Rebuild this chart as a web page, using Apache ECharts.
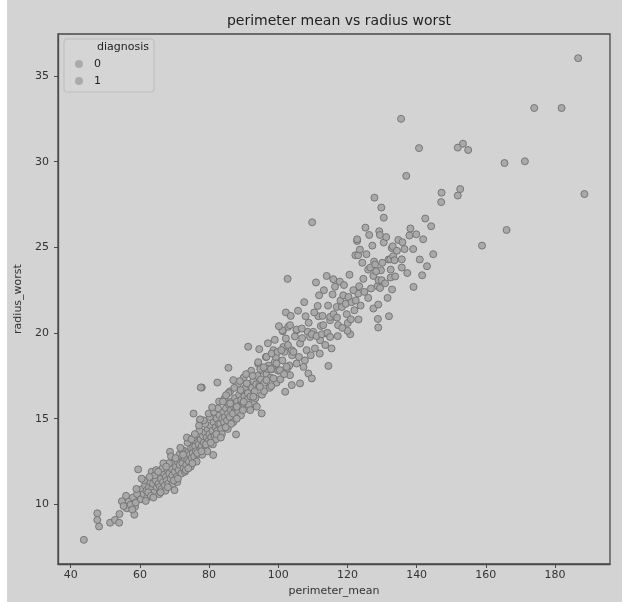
<!DOCTYPE html>
<html>
<head>
<meta charset="UTF-8">
<title>perimeter mean vs radius worst</title>
<script src="https://cdn.jsdelivr.net/npm/echarts@6/dist/echarts.min.js"></script>
</head>
<body style="margin:0;background:#d3d3d3;">
<div id="main" style="width:622px;height:602px;"></div>
<script type="text/javascript">
// diagnosis 0 : [perimeter_mean, radius_worst]
var benign = [
  [43.8,7.93],[47.7,9.48],[47.7,9.09],[48.2,8.71],[51.4,8.93],[52.8,9.09],[54.0,8.93],[54.1,9.44],
  [54.8,10.18],[56.2,9.77],[58.4,9.40],[58.6,9.86],[59.5,12.04],[59.7,10.35],[60.0,10.83],
  [55.3,9.9],[56.8,10.2],[57.3,9.98],[58.0,10.4],[58.8,10.1],[59.2,10.6],[60.3,10.3],[60.7,10.9],
  [61.1,10.6],[61.5,11.1],[61.9,10.8],[62.1,10.4],[62.6,11.0],[63.0,11.3],[63.4,11.9],[63.5,10.9],
  [63.8,11.2],[64.1,10.7],[64.6,11.4],[64.9,11.0],[65.1,11.7],[65.4,11.2],[65.8,11.03],[66.1,11.5],
  [66.3,10.9],[66.7,11.3],[66.9,11.8],[67.2,11.1],[67.5,11.6],[67.8,11.4],[68.0,12.0],[68.2,11.2],
  [68.5,11.8],[68.7,13.07],[68.9,11.5],[69.2,12.1],[69.4,11.7],[69.7,12.4],[70.0,10.83],[70.1,11.9],
  [70.4,12.2],[70.6,11.6],[70.9,12.5],[71.2,12.0],[71.5,12.3],[71.8,12.8],[72.0,11.8],[72.3,12.4],
  [72.6,12.1],[72.9,12.7],[73.1,13.1],[73.4,12.3],[73.7,12.6],[73.9,13.0],[74.2,12.5],[74.5,12.9],
  [74.8,13.3],[75.0,12.7],[75.3,13.0],[75.4,13.36],[75.7,12.8],[76.0,13.4],[76.2,13.1],[76.5,13.7],
  [76.8,12.9],[77.0,13.5],[77.4,14.92],[77.4,13.2],[77.6,13.8],[77.9,16.82],[77.9,13.4],[78.2,14.0],
  [78.5,13.6],[78.8,14.2],[79.0,13.3],[79.3,13.9],[79.6,14.4],[79.8,13.7],[80.1,14.1],[80.4,14.6],
  [80.6,13.9],[81.0,14.3],[81.2,12.88],[81.3,14.8],[81.6,14.0],[81.9,14.5],[82.2,15.0],[82.4,14.3],
  [82.7,14.7],[83.0,15.2],[83.2,14.7],[83.5,14.4],[83.8,15.0],[84.1,15.4],[84.3,14.8],[84.6,15.1],
  [84.9,15.6],[85.2,14.9],[85.5,15.3],[85.8,15.8],[86.0,15.1],[86.3,15.5],[86.6,16.0],[86.9,15.3],
  [87.2,15.7],[87.5,16.2],[87.8,14.08],[87.8,15.6],[88.1,16.0],[88.4,15.4],[88.7,16.4],[89.0,15.8],
  [89.3,16.1],[89.6,16.6],[89.9,15.9],[90.2,16.3],[90.5,16.8],[90.9,16.1],[91.2,16.5],[91.6,17.0],
  [92.0,16.3],[92.4,16.8],[92.8,17.2],[93.2,16.6],[93.6,17.0],[94.0,17.5],[94.5,16.9],[95.0,17.3],
  [95.5,17.8],[96.0,17.1],[96.6,17.6],[97.2,18.1],[97.8,17.4],[98.4,17.9],[99.0,18.3],[100.0,17.8],
  [101.2,18.4],[102.5,17.9],[104.0,18.7],
  [61.2,11.4],[62.4,10.7],[63.2,10.5],[64.3,11.7],[65.6,10.6],[66.5,12.1],[67.4,10.8],[68.4,12.4],
  [69.5,11.2],[70.8,11.3],[71.4,12.9],[72.1,13.2],[73.0,11.9],[73.8,13.6],[74.7,12.2],[75.5,13.9],
  [76.4,12.5],[77.2,14.3],[78.0,12.9],[78.9,14.7],[79.5,13.1],[80.2,15.1],[81.1,13.5],[82.0,13.8],
  [82.9,16.0],[83.7,14.1],[84.5,16.2],[85.4,14.4],[86.1,16.6],[87.0,14.8],[88.3,17.0],[89.2,15.2],
  [90.0,17.4],[91.0,15.6],[92.2,17.8],[93.0,15.9],[94.2,18.2],[95.3,16.4],[96.4,18.6],[97.5,16.8],
  [98.6,19.0],[99.5,17.1],
  [56.0,10.5],[57.8,9.7],[59.0,10.9],[60.5,11.5],[61.7,10.2],[62.8,11.6],[63.9,10.4],[64.7,12.0],
  [65.3,11.9],[66.0,10.7],[66.8,12.4],[67.6,12.2],[68.1,11.0],[69.0,12.8],[69.8,11.4],[70.3,12.7],
  [71.0,11.5],[71.7,13.3],[72.5,12.9],[73.3,12.0],[73.6,13.9],[74.0,12.1],[74.9,13.8],[75.2,12.4],
  [75.9,14.1],[76.6,13.0],[77.1,14.6],[77.8,13.1],[78.4,14.9],[79.1,13.5],[79.9,15.3],[80.5,13.6],
  [81.4,15.4],[82.1,14.1],[82.6,15.6],[83.4,13.9],[84.0,16.0],[84.8,14.5],[85.6,16.5],[86.4,14.7],
  [87.3,16.8],[88.0,15.0],[88.9,17.2],[89.8,15.5],[90.7,17.6],[91.5,15.8],[92.6,17.5],[93.4,16.2],
  [94.8,17.9],[95.9,16.6],[97.0,17.9],[98.0,16.9],[99.3,18.6],[100.6,17.3],[101.8,18.9],[103.2,18.1]
];

// diagnosis 1
var malignant = [
  [75.5,15.3],[77.6,16.82],[77.4,14.96],[80.9,15.66],[82.4,17.11],[85.6,17.97],[84.9,16.37],[86.1,15.89],
  [87.0,17.25],[88.0,15.7],[89.1,16.67],[90.0,15.99],[90.9,17.06],[91.3,19.2],[91.9,15.5],[92.8,16.28],
  [93.8,15.7],[94.2,18.3],[94.5,19.06],[94.7,16.86],[95.2,15.31],[96.6,17.25],[96.6,18.61],[98.1,18.8],
  [98.6,17.35],[99.5,18.22],[100.5,17.83],[101.3,20.1],[101.5,19.19],[102.0,16.57],[102.2,19.68],[102.2,21.2],
  [102.4,18.02],[102.7,23.16],[102.9,20.36],[103.4,17.54],[103.4,20.46],[103.9,19.0],[103.9,16.96],[105.3,20.16],
  [105.3,18.22],[106.3,19.39],[106.3,17.06],[107.3,18.02],[107.9,20.98],[108.2,19.0],[108.5,20.07],[108.7,17.64],
  [109.2,19.77],[109.7,17.35],[109.8,26.46],[110.1,20.07],[110.9,22.95],[111.4,21.58],[111.6,20.98],[112.1,19.58],
  [112.3,20.41],[113.0,20.46],[113.2,22.5],[114.0,19.97],[114.0,23.33],[114.5,18.08],[115.0,20.75],[115.0,20.94],
  [115.7,22.25],[115.9,23.14],[116.9,21.52],[117.2,19.82],[117.3,20.46],[118.4,21.52],[118.0,21.9],[118.8,22.2],
  [119.5,21.7],[120.1,20.59],[120.3,22.1],[120.8,19.93],[121.2,21.8],[122.0,21.33],[122.3,24.54],[122.8,25.37],
  [122.8,25.47],[123.1,24.54],[123.1,22.3],[123.2,20.79],[123.4,22.73],[123.6,24.87],[124.6,23.16],[125.2,26.15],
  [126.0,23.7],[126.0,22.05],[126.3,25.72],[126.6,23.82],[127.5,23.33],[127.5,21.43],[127.7,24.17],[127.8,27.9],
  [128.0,24.0],[128.7,22.73],[128.8,20.82],[128.9,21.66],[128.9,20.32],[129.0,23.08],[129.2,25.94],[129.4,25.72],
  [129.4,22.63],[129.7,23.66],[129.8,27.32],[129.9,23.08],[130.5,26.73],[130.5,25.28],[131.6,22.05],[131.9,24.29],
  [132.0,20.98],[132.4,24.3],[132.5,23.7],[132.5,23.24],[132.8,24.96],[132.9,22.54],[133.1,25.06],[133.2,24.48],
  [133.6,24.25],[134.7,25.43],[135.5,32.5],[135.7,24.3],[135.7,23.82],[135.9,25.3],[137.0,29.17],[137.9,25.69],
  [139.1,22.69],[139.9,25.76],[140.7,30.79],[140.9,24.29],[141.6,23.37],[141.9,25.47],[142.5,26.68],[144.2,26.23],
  [147.1,27.64],[147.2,28.19],[151.9,28.02],[151.9,30.82],[152.6,28.4],[153.4,31.05],[154.9,30.68],[158.9,25.1],
  [165.4,29.92],[166.0,26.01],[171.3,30.02],[174.0,33.13],[181.9,33.13],[186.7,36.04],[188.5,28.11],
  [101.2,20.16],[105.3,20.2],[106.8,20.26],[109.7,19.93],[111.1,19.82],[112.6,19.93],[114.2,20.01],[115.0,19.77],
  [120.0,20.13],
  [95.8,18.0],[97.0,19.4],[97.9,17.9],[99.0,19.6],[99.8,18.9],[100.2,20.4],[100.9,19.0],[101.7,17.6],
  [102.8,19.3],[103.6,21.0],[104.4,18.9],[104.8,19.8],[105.7,21.3],[106.0,18.6],[106.9,19.7],[107.5,21.8],
  [107.7,18.4],[108.8,20.6],[109.4,18.7],[110.4,21.2],[110.6,19.1],[111.8,22.2],[112.0,18.8],[112.8,21.0],
  [113.6,19.3],[114.4,21.6],[115.4,19.1],[116.0,21.1],[116.4,22.7],[117.0,20.9],[117.8,23.0],[118.5,20.3],
  [119.0,22.8],[119.8,21.1],[120.6,23.4],[121.0,20.8],[121.7,22.5],[122.4,21.9],[123.8,21.6],[124.3,24.1],
  [124.9,22.4],[125.5,24.6],[126.8,22.6],[127.2,25.1],[128.3,23.6],[130.1,24.1],[130.9,22.9],[131.2,25.6],
  [133.8,23.3],[134.3,24.8],[136.5,24.9],[137.3,23.5],[138.2,26.1],[139.0,24.9],[143.0,23.9],[144.8,24.6]
];

var xTicks = [40, 60, 80, 100, 120, 140, 160, 180];
var yTicks = [10, 15, 20, 25, 30, 35];
var groups = ['0', '1'];

var axisColor = '#4a4a4a';
var textColor = '#333';
var font = 'DejaVu Sans';

function scatterSeries(name, data) {
  return {
    name: name,
    type: 'scatter',
    data: data,
    symbolSize: 7,
    itemStyle: {
      color: '#a6a6a6',
      borderColor: '#737373',
      borderWidth: 1,
      opacity: 0.95
    },
    emphasis: { disabled: true }
  };
}

var myChart = echarts.init(document.getElementById('main'));
myChart.setOption({
  backgroundColor: '#d3d3d3',
  animation: false,
  textStyle: { fontFamily: font },
  title: {
    text: 'perimeter mean vs radius worst',
    left: 334,
    textAlign: 'center',
    top: 9,
    textStyle: { fontSize: 14, fontWeight: 'normal', color: '#222', fontFamily: font }
  },
  legend: {
    data: groups,
    left: 64,
    top: 39,
    orient: 'vertical',
    icon: 'circle',
    itemWidth: 8,
    itemHeight: 8,
    itemGap: 5,
    padding: [19, 53, 5, 11],
    borderColor: '#bdbdbd',
    borderWidth: 1,
    borderRadius: 3,
    backgroundColor: '#d5d5d5',
    itemStyle: { color: '#a9a9a9', borderWidth: 0 },
    textStyle: { fontSize: 11, color: '#222', lineHeight: 12, padding: [0, 0, 0, 6], fontFamily: font }
  },
  graphic: [
    { type: 'rect', left: 0, top: 0, z: 100, shape: { width: 7, height: 602 }, style: { fill: '#ffffff' }, silent: true },
    { type: 'text', left: 97, top: 42, z: 100, style: { text: 'diagnosis', fontSize: 11, fill: '#222', fontFamily: font } }
  ],
  grid: {
    left: 58, right: 12, top: 34, bottom: 38,
    show: true,
    borderColor: axisColor,
    borderWidth: 1.3,
    backgroundColor: 'transparent'
  },
  xAxis: {
    type: 'value',
    min: 36.33,
    max: 195.9,
    name: 'perimeter_mean',
    nameLocation: 'middle',
    nameGap: 21,
    nameTextStyle: { fontSize: 11, color: textColor },
    axisLine: { lineStyle: { color: axisColor, width: 1.3 } },
    axisTick: { show: true, length: 4, customValues: xTicks, lineStyle: { color: axisColor } },
    axisLabel: { customValues: xTicks, fontSize: 11, color: textColor, margin: 6 },
    splitLine: { show: false }
  },
  yAxis: {
    type: 'value',
    min: 6.52,
    max: 37.45,
    name: 'radius_worst',
    nameLocation: 'middle',
    nameGap: 25,
    nameTextStyle: { fontSize: 11, color: textColor },
    axisLine: { show: true, lineStyle: { color: axisColor, width: 1.3 } },
    axisTick: { show: true, length: 4, customValues: yTicks, lineStyle: { color: axisColor } },
    axisLabel: { customValues: yTicks, fontSize: 11, color: textColor, margin: 9 },
    splitLine: { show: false }
  },
  series: [
    scatterSeries('0', benign),
    scatterSeries('1', malignant)
  ]
});
</script>
</body>
</html>
